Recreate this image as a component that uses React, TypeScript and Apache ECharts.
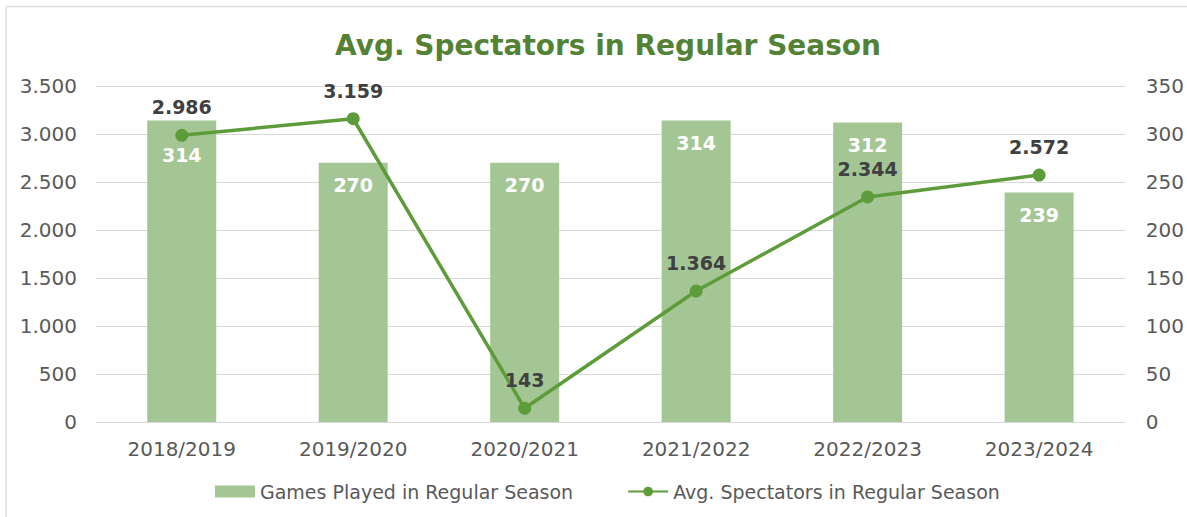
import React, { useEffect, useRef } from 'react';
import * as echarts from 'echarts';

const categories = ['2018/2019', '2019/2020', '2020/2021', '2021/2022', '2022/2023', '2023/2024'];
const gamesPlayed = [314, 270, 270, 314, 312, 239];
const avgSpectators = [2986, 3159, 143, 1364, 2344, 2572];
const leftAxisMax = 3500;
const leftAxisInterval = 500;
const rightAxisMax = 350;
const rightAxisInterval = 50;

const fmt = (n: number) => String(n).replace(/\B(?=(\d{3})+(?!\d))/g, '.');

const FONT = '"DejaVu Sans", sans-serif';
const GRAY = '#595959';

export default function App() {
  const ref = useRef<HTMLDivElement>(null);
  useEffect(() => {
    document.body.style.margin = '0';
    const chart = echarts.init(ref.current!, null, { renderer: 'svg' });
    chart.setOption({
      animation: false,
      backgroundColor: '#ffffff',
      title: {
        text: 'Avg. Spectators in Regular Season',
        left: 330,
        top: 26,
        textStyle: { color: '#548235', fontSize: 28, fontWeight: 'bold', fontFamily: FONT },
      },
      graphic: [
        {
          type: 'line',
          shape: { x1: 6, y1: 6.5, x2: 1187, y2: 6.5 },
          style: { stroke: '#dedede', lineWidth: 1.5 },
          silent: true,
        },
        {
          type: 'line',
          shape: { x1: 6, y1: 6.5, x2: 6, y2: 517 },
          style: { stroke: '#dedede', lineWidth: 1.5 },
          silent: true,
        },
      ],
      grid: { left: 96, right: 61, top: 86, bottom: 95 },
      legend: {
        top: 477,
        left: 210,
        itemGap: 54,
        itemWidth: 40,
        itemHeight: 12,
        textStyle: { color: GRAY, fontSize: 19, fontFamily: FONT },
        data: [
          { name: 'Games Played in Regular Season', icon: 'rect' },
          { name: 'Avg. Spectators in Regular Season' },
        ],
      },
      xAxis: {
        type: 'category',
        data: categories,
        axisTick: { show: false },
        axisLine: { lineStyle: { color: '#d9d9d9', width: 1 } },
        axisLabel: { color: GRAY, fontSize: 20, fontFamily: FONT, margin: 17 },
      },
      yAxis: [
        {
          type: 'value',
          min: 0,
          max: leftAxisMax,
          interval: leftAxisInterval,
          axisLabel: { color: GRAY, fontSize: 20, fontFamily: FONT, margin: 19, formatter: (v: number) => fmt(v) },
          splitLine: { lineStyle: { color: '#d9d9d9', width: 1 } },
          axisLine: { show: false },
          axisTick: { show: false },
        },
        {
          type: 'value',
          min: 0,
          max: rightAxisMax,
          interval: rightAxisInterval,
          axisLabel: { color: GRAY, fontSize: 20, fontFamily: FONT, margin: 21 },
          splitLine: { show: false },
          axisLine: { show: false },
          axisTick: { show: false },
        },
      ],
      series: [
        {
          name: 'Games Played in Regular Season',
          type: 'bar',
          yAxisIndex: 1,
          barWidth: 69,
          itemStyle: { color: '#A4C694' },
          data: gamesPlayed.map((v, i) => (i === 0 ? { value: v, label: { offset: [0, 12] } } : v)),
          label: {
            show: true,
            position: 'insideTop',
            distance: 13,
            color: '#ffffff',
            fontWeight: 'bold',
            fontSize: 19,
            fontFamily: FONT,
          },
          z: 1,
        },
        {
          name: 'Avg. Spectators in Regular Season',
          type: 'line',
          yAxisIndex: 0,
          data: avgSpectators,
          symbol: 'circle',
          symbolSize: 13,
          lineStyle: { color: '#5E9C3B', width: 3.5 },
          itemStyle: { color: '#5E9C3B' },
          label: {
            show: true,
            position: 'top',
            distance: 12,
            color: '#404040',
            fontWeight: 'bold',
            fontSize: 19,
            fontFamily: FONT,
            formatter: (p: any) => fmt(p.value),
          },
          z: 3,
        },
      ],
    });
    return () => chart.dispose();
  }, []);
  return <div ref={ref} style={{ width: 1187, height: 517 }} />;
}
